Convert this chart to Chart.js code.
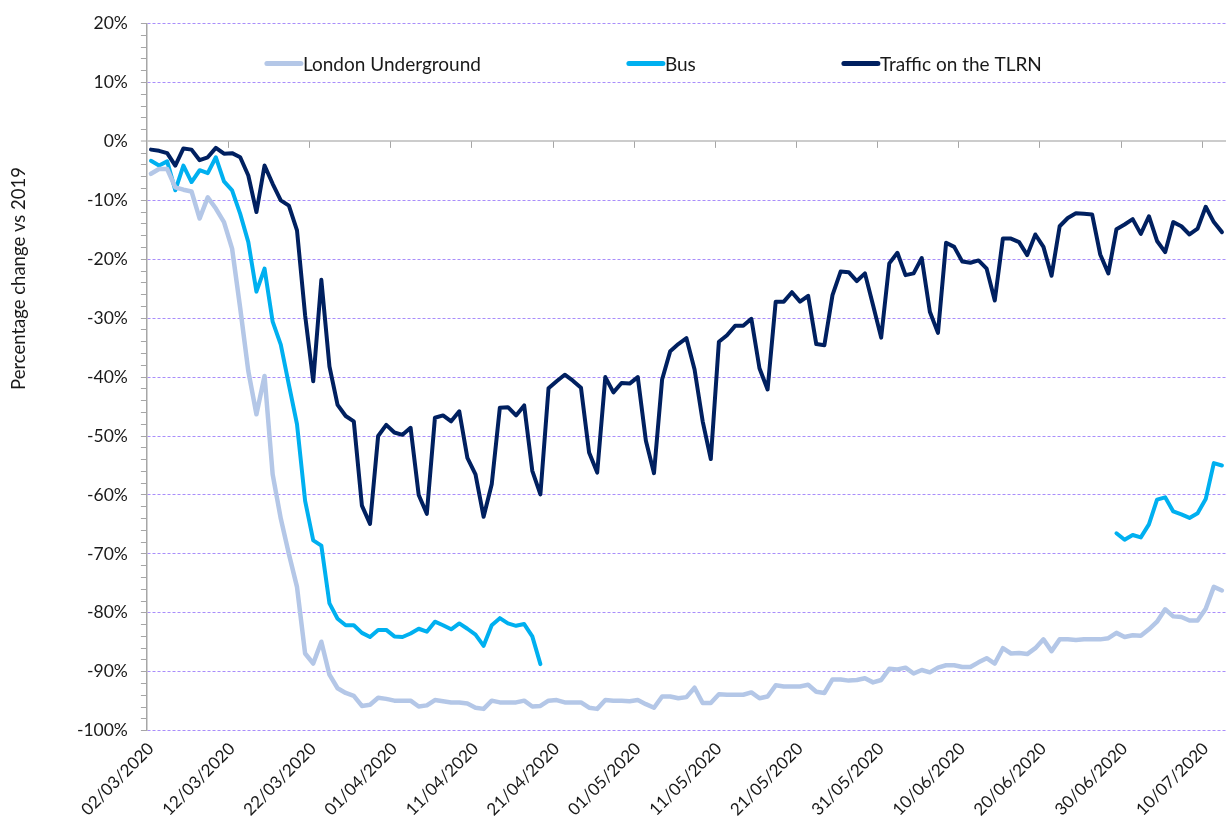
<!DOCTYPE html>
<html>
<head>
<meta charset="utf-8">
<script src="https://cdn.jsdelivr.net/npm/chart.js@4.4.1/dist/chart.umd.min.js"></script>
<style>
  html, body { margin: 0; padding: 0; background: #ffffff; }
  #wrap { width: 1226px; height: 825px; }
</style>
</head>
<body>
<div id="wrap"><canvas id="c" width="1226" height="825"></canvas></div>
<script>
// ---- categories: one per day, 02/03/2020 .. 12/07/2020 ----
const startDay = [2020, 2, 2];   // year, month (0-based), day
const dayCount = 133;
const categories = [];
for (let i = 0; i < dayCount; i++) {
  const d = new Date(Date.UTC(startDay[0], startDay[1], startDay[2] + i));
  const dd = String(d.getUTCDate()).padStart(2, '0');
  const mm = String(d.getUTCMonth() + 1).padStart(2, '0');
  categories.push(dd + '/' + mm + '/' + d.getUTCFullYear());
}
const tickEvery = 10;

// ---- series (percentage change vs 2019) ----
const underground = [
  -5.5, -4.7, -4.7, -7.8, -8.2, -8.5, -13.1, -9.5, -11.4, -13.7,
  -18.2, -28.3, -39.0, -46.3, -39.8, -56.5, -64.0, -70.0, -75.6, -86.9,
  -88.6, -84.9, -90.5, -92.8, -93.6, -94.1, -95.8, -95.6, -94.4, -94.6,
  -94.9, -94.9, -94.9, -95.9, -95.7, -94.8, -95.0, -95.2, -95.2, -95.4,
  -96.1, -96.3, -94.9, -95.2, -95.2, -95.2, -94.9, -95.9, -95.8, -94.9,
  -94.8, -95.2, -95.2, -95.2, -96.1, -96.3, -94.8, -94.9, -94.9, -95.0,
  -94.8, -95.5, -96.1, -94.2, -94.2, -94.5, -94.3, -92.7, -95.3, -95.3,
  -93.8, -93.9, -93.9, -93.9, -93.5, -94.5, -94.2, -92.3, -92.5, -92.5,
  -92.5, -92.2, -93.4, -93.6, -91.3, -91.3, -91.5, -91.4, -91.1, -91.8,
  -91.4, -89.5, -89.6, -89.3, -90.3, -89.7, -90.1, -89.3, -88.9, -88.9,
  -89.2, -89.2, -88.4, -87.7, -88.6, -86.0, -86.9, -86.8, -87.0, -86.0,
  -84.5, -86.5, -84.5, -84.5, -84.6, -84.5, -84.5, -84.5, -84.3, -83.4,
  -84.1, -83.8, -83.9, -82.8, -81.5, -79.4, -80.6, -80.7, -81.3, -81.3,
  -79.3, -75.6, -76.2
];

// Bus: reported for two separate spells only
const busSpring = [
  -3.3, -4.1, -3.4, -8.3, -4.1, -6.9, -4.9, -5.4, -2.7, -6.8,
  -8.3, -12.3, -17.1, -25.5, -21.6, -30.6, -34.5, -41.3, -48.0, -61.0,
  -67.7, -68.6, -78.4, -81.0, -82.1, -82.1, -83.4, -84.1, -82.9, -82.9,
  -84.0, -84.1, -83.5, -82.7, -83.2, -81.5, -82.1, -82.8, -81.8, -82.7,
  -83.7, -85.6, -82.1, -80.9, -81.8, -82.2, -81.9, -84.0, -88.7
];
const busSummer = [
  -66.5, -67.6, -66.8, -67.2, -65.0, -60.8, -60.4, -62.8, -63.3, -63.9,
  -63.1, -60.7, -54.6, -55.0
];

const traffic = [
  -1.4, -1.6, -2.0, -4.1, -1.2, -1.4, -3.2, -2.7, -1.1, -2.1,
  -2.0, -2.7, -5.8, -12.0, -4.1, -7.2, -10.0, -10.9, -15.1, -29.5,
  -40.7, -23.5, -38.2, -44.7, -46.6, -47.5, -61.8, -64.9, -50.0, -48.1,
  -49.4, -49.8, -48.6, -60.0, -63.2, -46.9, -46.5, -47.5, -45.8, -53.7,
  -56.5, -63.7, -58.2, -45.2, -45.1, -46.5, -44.8, -55.9, -59.9, -41.9,
  -40.7, -39.6, -40.6, -41.8, -52.8, -56.2, -40.0, -42.6, -41.0, -41.1,
  -40.0, -50.8, -56.3, -40.4, -35.6, -34.4, -33.4, -38.7, -47.5, -53.9,
  -34.0, -32.9, -31.3, -31.3, -30.1, -38.5, -42.1, -27.2, -27.2, -25.6,
  -27.2, -26.2, -34.4, -34.6, -26.1, -22.1, -22.2, -23.7, -22.4, -27.8,
  -33.3, -20.7, -18.9, -22.7, -22.4, -19.8, -28.9, -32.5, -17.2, -17.9,
  -20.4, -20.6, -20.2, -21.6, -27.0, -16.5, -16.5, -17.1, -19.3, -15.8,
  -17.9, -22.8, -14.4, -13.0, -12.2, -12.3, -12.4, -19.2, -22.4, -14.9,
  -14.1, -13.2, -15.7, -12.7, -16.9, -18.8, -13.7, -14.4, -15.8, -14.8,
  -11.1, -13.7, -15.4
];

const seriesNames = ['London Underground', 'Bus', 'Traffic on the TLRN'];
const seriesColors = ['#b4c7e7', '#00b0f0', '#002060'];
const yTitle = 'Percentage change vs 2019';
const yMin = -100, yMax = 20, yMajor = 10, yMinor = 2;

// bus gap between the two spells (no data)
const busGap = categories.length - busSpring.length - busSummer.length;
const bus = busSpring.concat(new Array(busGap).fill(null), busSummer);

// ---- styling / layout ----
const FONT = 'Lato, "Open Sans", "DejaVu Sans", sans-serif';
const TEXT = '#1a1a1a';
const GRID = '#a98dfb';
const AXIS = '#a6a6a6';
const legendOffsets = [118, 480, 695]; // px from plot left edge
const legendDrop = 40;                  // px below plot top
const titleCentre = 255;                // px below plot top

const decor = {
  id: 'decor',
  beforeDatasetsDraw(chart) {
    const {ctx, scales: {x, y}} = chart;
    const y0 = y.getPixelForValue(0);
    const half = (x.getPixelForValue(1) - x.getPixelForValue(0)) / 2;
    ctx.save();
    ctx.strokeStyle = AXIS;
    ctx.lineWidth = 1;
    for (let i = tickEvery; i < categories.length; i += tickEvery) {
      const px = Math.round(x.getPixelForValue(i) - half) + 0.5;
      ctx.beginPath();
      ctx.moveTo(px, y0);
      ctx.lineTo(px, y0 + 6.5);
      ctx.stroke();
    }
    ctx.restore();
  },
  afterDraw(chart) {
    const {ctx, chartArea} = chart;
    ctx.save();
    // legend
    ctx.font = '19px ' + FONT;
    ctx.textBaseline = 'middle';
    ctx.textAlign = 'left';
    const ly = chartArea.top + legendDrop;
    chart.data.datasets.forEach((ds, i) => {
      const lx = chartArea.left + legendOffsets[i];
      ctx.strokeStyle = ds.borderColor;
      ctx.lineWidth = 5;
      ctx.lineCap = 'round';
      ctx.beginPath();
      ctx.moveTo(lx + 2, ly);
      ctx.lineTo(lx + 36, ly);
      ctx.stroke();
      ctx.fillStyle = TEXT;
      ctx.fillText(ds.label, lx + 38, ly + 1);
    });
    // y axis title
    ctx.translate(19, chartArea.top + titleCentre);
    ctx.rotate(-Math.PI / 2);
    ctx.textAlign = 'center';
    ctx.font = '18.5px ' + FONT;
    ctx.fillStyle = TEXT;
    ctx.fillText(yTitle, 0, 0);
    ctx.restore();
  }
};

const seriesData = [underground, bus, traffic];
const widths = [4.5, 4, 4];

new Chart(document.getElementById('c'), {
  type: 'line',
  data: {
    labels: categories,
    datasets: seriesNames.map((name, i) => ({
      label: name,
      data: seriesData[i],
      borderColor: seriesColors[i],
      backgroundColor: seriesColors[i],
      borderWidth: widths[i],
      pointRadius: 0,
      pointHoverRadius: 0,
      tension: 0,
      spanGaps: false,
      borderJoinStyle: 'round',
      borderCapStyle: 'round',
      fill: false
    }))
  },
  options: {
    responsive: false,
    animation: false,
    devicePixelRatio: 1,
    events: [],
    layout: { padding: { top: 20.6, right: -4, bottom: 0, left: 0 } },
    plugins: {
      legend: { display: false },
      tooltip: { enabled: false },
      title: { display: false }
    },
    scales: {
      x: {
        type: 'category',
        offset: true,
        grid: { display: false, drawTicks: false },
        border: { display: false },
        ticks: {
          autoSkip: false,
          minRotation: 45,
          maxRotation: 45,
          padding: 8,
          color: TEXT,
          font: { family: FONT, size: 17 },
          callback: (v, i) => (i % tickEvery === 0 ? categories[i] : '')
        },
        afterFit: (s) => { s.height = 94.3; s.paddingRight = -4; s.paddingLeft = 0; }
      },
      y: {
        min: yMin,
        max: yMax,
        grid: {
          color: (c) => c.tick.value === 0 ? '#cccccc' : (c.tick.value % yMajor === 0 ? GRID : 'rgba(0,0,0,0)'),
          lineWidth: (c) => c.tick.value === 0 ? 2 : 1,
          tickColor: AXIS,
          tickLength: 6,
          tickWidth: 1
        },
        border: {
          display: true,
          color: AXIS,
          width: 1.5,
          dash: (c) => (c.tick && c.tick.value === 0) ? [] : [3, 2]
        },
        ticks: {
          stepSize: yMinor,
          autoSkip: false,
          padding: 13,
          color: TEXT,
          font: { family: FONT, size: 17.5 },
          callback: (v) => (v % yMajor === 0 ? v + '%' : '')
        },
        afterFit: (s) => { s.width = 146.9; }
      }
    }
  },
  plugins: [decor]
});
</script>
</body>
</html>
